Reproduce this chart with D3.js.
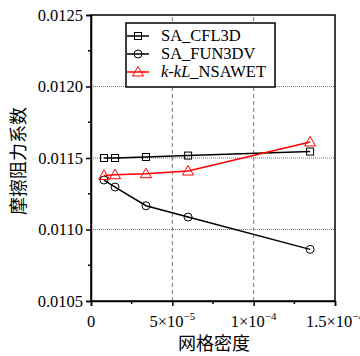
<!DOCTYPE html>
<html>
<head>
<meta charset="utf-8">
<script src="https://cdn.jsdelivr.net/npm/d3@7"></script>
<style>
body { margin: 0; background: #fff; }
svg text { font-family: "Liberation Serif", "Times New Roman", Times, serif; }
svg text.cjk { font-family: "Noto Sans CJK SC", sans-serif; }
</style>
</head>
<body>
<div id="my_viz"></div>
<script>
var width = 360,
    height = 356;

var gridX = [0.8e-5, 1.48e-5, 3.38e-5, 5.97e-5, 1.347e-4];
var cfl3d = [0.011500, 0.011500, 0.011507, 0.011517, 0.011545];
var fun3d = [0.011346, 0.011297, 0.011166, 0.011087, 0.010861];
var nsawet = [0.011378, 0.011383, 0.011390, 0.011409, 0.011612];

var xTicks = [0, 5e-5, 1e-4, 1.5e-4];
var xTickLabels = [["0", ""], ["5×10", "−5"], ["1×10", "−4"], ["1.5×10", "−4"]];
var yTicks = [0.0105, 0.0110, 0.0115, 0.0120, 0.0125];

var margin = { left: 91, right: 25, top: 15, bottom: 55 };

var svg = d3.select("#my_viz")
    .append("svg")
    .attr("width", width)
    .attr("height", height)
    .style("background", "white");

var x = d3.scaleLinear().domain([0, 1.5e-4]).range([margin.left, width - margin.right]);
var y = d3.scaleLinear().domain([0.0105, 0.0125]).range([height - margin.bottom, margin.top]);

// grid
svg.append("g").selectAll("line").data([0.0110, 0.0115, 0.0120]).enter()
    .append("line")
    .attr("x1", x(0)).attr("x2", x(1.5e-4))
    .attr("y1", function (d) { return y(d); })
    .attr("y2", function (d) { return y(d); })
    .attr("stroke", "#777").attr("stroke-width", 1)
    .attr("stroke-dasharray", "1,1");

svg.append("g").selectAll("line").data([5e-5, 1e-4]).enter()
    .append("line")
    .attr("x1", function (d) { return x(d); })
    .attr("x2", function (d) { return x(d); })
    .attr("y1", y(0.0105)).attr("y2", y(0.0125))
    .attr("stroke", "#777").attr("stroke-width", 1)
    .attr("stroke-dasharray", "4,3");

// frame
svg.append("rect")
    .attr("x", x(0)).attr("y", y(0.0125))
    .attr("width", x(1.5e-4) - x(0))
    .attr("height", y(0.0105) - y(0.0125))
    .attr("fill", "none").attr("stroke", "black").attr("stroke-width", 1.5);

// y axis
var yAxis = d3.axisLeft(y).tickValues(yTicks).tickSize(5)
    .tickFormat(d3.format(".4f"));
var yg = svg.append("g").attr("transform", "translate(" + x(0) + ",0)").call(yAxis);
yg.attr("font-family", null).attr("font-size", null);
yg.select(".domain").attr("stroke-width", 1.5);
yg.selectAll(".tick line").attr("stroke-width", 1.5);
yg.selectAll("text").attr("font-size", 16.5)
    .attr("fill", "black").attr("x", -8);

svg.append("g").selectAll("line").data([0.01075, 0.01125, 0.01175, 0.01225]).enter()
    .append("line")
    .attr("x1", x(0) - 3).attr("x2", x(0))
    .attr("y1", function (d) { return y(d); })
    .attr("y2", function (d) { return y(d); })
    .attr("stroke", "black").attr("stroke-width", 1.5);

// x axis
var xAxis = d3.axisBottom(x).tickValues(xTicks).tickSize(5).tickFormat("");
var xg = svg.append("g").attr("transform", "translate(0," + y(0.0105) + ")").call(xAxis);
xg.select(".domain").attr("stroke-width", 1.5);
xg.selectAll(".tick line").attr("stroke-width", 1.5);

svg.append("g").selectAll("line").data([2.5e-5, 7.5e-5, 1.25e-4]).enter()
    .append("line")
    .attr("x1", function (d) { return x(d); })
    .attr("x2", function (d) { return x(d); })
    .attr("y1", y(0.0105)).attr("y2", y(0.0105) + 3)
    .attr("stroke", "black").attr("stroke-width", 1.5);

var xl = svg.append("g").selectAll("text").data(xTicks).enter()
    .append("text")
    .attr("x", function (d) { return x(d); })
    .attr("y", y(0.0105) + 26)
    .attr("text-anchor", "middle")
    .attr("font-size", 16.5);
xl.append("tspan").text(function (d, i) { return xTickLabels[i][0]; });
xl.append("tspan").attr("dy", -7).attr("font-size", 11)
    .text(function (d, i) { return xTickLabels[i][1]; });

// axis titles
svg.append("text")
    .attr("class", "cjk")
    .attr("x", x(0.75e-4) + 1).attr("y", 350)
    .attr("text-anchor", "middle")
    .attr("font-size", 18)
    .text("网格密度");

svg.append("text")
    .attr("class", "cjk")
    .attr("transform", "translate(25,161) rotate(-90)")
    .attr("text-anchor", "middle")
    .attr("font-size", 18)
    .text("摩擦阻力系数");

// series
var series = [
    { name: "SA_CFL3D", values: cfl3d, color: "black", marker: "square" },
    { name: "SA_FUN3DV", values: fun3d, color: "black", marker: "circle" },
    { name: "k-kL_NSAWET", values: nsawet, color: "red", marker: "triangle" }
];

var line = d3.line()
    .x(function (d) { return x(d[0]); })
    .y(function (d) { return y(d[1]); });

function drawMarker(g, type, color) {
    if (type == "square") {
        g.append("rect").attr("x", -3.5).attr("y", -3.5).attr("width", 7).attr("height", 7)
            .attr("fill", "none").attr("stroke", color).attr("stroke-width", 1);
    } else if (type == "circle") {
        g.append("circle").attr("r", 4)
            .attr("fill", "none").attr("stroke", color).attr("stroke-width", 1);
    } else {
        g.append("path").attr("d", "M0,-5.5L5.5,4L-5.5,4Z")
            .attr("fill", "none").attr("stroke", color).attr("stroke-width", 1);
    }
}

series.forEach(function (s) {
    var pts = gridX.map(function (d, i) { return [d, s.values[i]]; });
    svg.append("path").datum(pts)
        .attr("d", line)
        .attr("fill", "none")
        .attr("stroke", s.color)
        .attr("stroke-width", 1.5);
    svg.append("g").selectAll("g").data(pts).enter()
        .append("g")
        .attr("transform", function (d) { return "translate(" + x(d[0]) + "," + y(d[1]) + ")"; })
        .each(function () { drawMarker(d3.select(this), s.marker, s.color); });
});

// legend
var legend = svg.append("g").attr("transform", "translate(126, 23)");
legend.append("rect")
    .attr("width", 149).attr("height", 64)
    .attr("fill", "white").attr("stroke", "black").attr("stroke-width", 1.5);

var rows = legend.selectAll(".legends").data(series).enter()
    .append("g")
    .classed("legends", true)
    .attr("transform", function (d, i) { return "translate(0," + (13 + i * 18) + ")"; });

rows.append("line")
    .attr("x1", 1).attr("x2", 23)
    .attr("stroke", function (d) { return d.color; })
    .attr("stroke-width", 1.5);
rows.append("g").attr("transform", "translate(12,0)")
    .each(function (d) { drawMarker(d3.select(this), d.marker, d.color); });

var lt = rows.append("text")
    .attr("x", 35).attr("y", 5)
    .attr("font-size", 16.5);
lt.each(function (d) {
    var t = d3.select(this);
    if (d.name.indexOf("k-kL") == 0) {
        t.append("tspan").attr("font-style", "italic").text("k-kL");
        t.append("tspan").text(d.name.slice(4));
    } else {
        t.text(d.name);
    }
});
</script>
</body>
</html>
